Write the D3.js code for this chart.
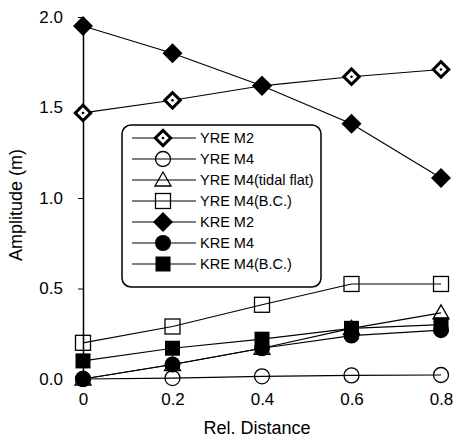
<!DOCTYPE html>
<html>
<head>
<meta charset="utf-8">
<title>Amplitude vs Rel. Distance</title>
<script src="https://d3js.org/d3.v7.min.js"></script>
<style>
body { margin: 0; background: #fff; }
svg { font-family: Arial, "Liberation Sans", sans-serif; }
</style>
</head>
<body>
<script>
// data
var distances = [0, 0.2, 0.4, 0.6, 0.8];
var yreM2 = [1.47, 1.54, 1.62, 1.67, 1.71];
var yreM4 = [0.0, 0.005, 0.015, 0.02, 0.022];
var yreM4Tidal = [0.0, 0.08, 0.17, 0.28, 0.365];
var yreM4BC = [0.20, 0.29, 0.41, 0.525, 0.525];
var kreM2 = [1.95, 1.80, 1.62, 1.41, 1.11];
var kreM4 = [0.0, 0.08, 0.17, 0.24, 0.27];
var kreM4BC = [0.10, 0.17, 0.22, 0.28, 0.30];
var yTicks = [0, 0.5, 1.0, 1.5, 2.0];

var series = [
  {name: "YRE M2", values: yreM2, shape: "odiamond"},
  {name: "YRE M4", values: yreM4, shape: "ocircle"},
  {name: "YRE M4(tidal flat)", values: yreM4Tidal, shape: "otriangle"},
  {name: "YRE M4(B.C.)", values: yreM4BC, shape: "osquare"},
  {name: "KRE M2", values: kreM2, shape: "fdiamond"},
  {name: "KRE M4", values: kreM4, shape: "fcircle"},
  {name: "KRE M4(B.C.)", values: kreM4BC, shape: "fsquare"}
];

var width = 456, height = 439;

var x = d3.scaleLinear().domain([0, 0.8]).range([83, 441]);
var y = d3.scaleLinear().domain([0, 2]).range([379, 17]);

var svg = d3.select("body").append("svg")
    .attr("width", width)
    .attr("height", height);

// draw one marker in group g
function marker(g, shape) {
  if (shape == "odiamond") {
    g.append("path").attr("d", d3.symbol(d3.symbolSquare, 120)())
      .attr("transform", "rotate(45)")
      .attr("fill", "#fff").attr("stroke", "#000").attr("stroke-width", 3);
    g.append("circle").attr("r", 1.3).attr("fill", "#000");
  } else if (shape == "fdiamond") {
    g.append("path").attr("d", d3.symbol(d3.symbolSquare, 200)())
      .attr("transform", "rotate(45)")
      .attr("fill", "#000");
  } else if (shape == "ocircle") {
    g.append("circle").attr("r", 7.5)
      .attr("fill", "none").attr("stroke", "#000").attr("stroke-width", 1.3);
  } else if (shape == "fcircle") {
    g.append("circle").attr("r", 8).attr("fill", "#000");
  } else if (shape == "osquare") {
    g.append("rect").attr("x", -7.5).attr("y", -7.5).attr("width", 15).attr("height", 15)
      .attr("fill", "none").attr("stroke", "#000").attr("stroke-width", 1.3);
  } else if (shape == "fsquare") {
    g.append("rect").attr("x", -7.5).attr("y", -7.5).attr("width", 15).attr("height", 15)
      .attr("fill", "#000");
  } else if (shape == "otriangle") {
    g.append("path").attr("d", "M0,-8L8,6L-8,6Z")
      .attr("fill", "none").attr("stroke", "#000").attr("stroke-width", 1.3);
  }
}

// axes
var yAxis = svg.append("g")
    .attr("transform", "translate(83,0)")
    .call(d3.axisLeft(y).tickValues(yTicks).tickFormat(d3.format(".1f"))
      .tickSize(5).tickSizeOuter(0).tickPadding(15));
yAxis.select(".domain").attr("stroke-width", 1.5);
yAxis.selectAll("text").attr("font-size", 17).attr("font-family", "Arial, 'Liberation Sans', sans-serif");

var xAxis = svg.append("g")
    .attr("transform", "translate(0,379)")
    .call(d3.axisBottom(x).tickValues(distances).tickFormat(function(d) { return d == 0 ? "0" : d3.format(".1f")(d); })
      .tickSize(0).tickPadding(14));
xAxis.select(".domain").remove();
xAxis.selectAll("text").attr("font-size", 17).attr("font-family", "Arial, 'Liberation Sans', sans-serif");

// lines
var line = d3.line()
    .x(function(d, i) { return x(distances[i]); })
    .y(function(d) { return y(d); });

svg.selectAll(".series-line")
    .data(series)
  .enter().append("path")
    .attr("class", "series-line")
    .attr("d", function(d) { return line(d.values); })
    .attr("fill", "none")
    .attr("stroke", "#000")
    .attr("stroke-width", 1.2);

// markers
series.forEach(function(s) {
  s.values.forEach(function(v, i) {
    var g = svg.append("g").attr("transform", "translate(" + x(distances[i]) + "," + y(v) + ")");
    marker(g, s.shape);
  });
});

// legend
var legend = svg.append("g");
legend.append("rect")
    .attr("x", 122).attr("y", 125)
    .attr("width", 199).attr("height", 162)
    .attr("rx", 9).attr("ry", 9)
    .attr("fill", "#fff").attr("stroke", "#000").attr("stroke-width", 1.5);

series.forEach(function(s, i) {
  var ly = 138 + i * 21;
  legend.append("line")
    .attr("x1", 132).attr("x2", 196).attr("y1", ly).attr("y2", ly)
    .attr("stroke", "#000").attr("stroke-width", 1.2);
  var g = legend.append("g").attr("transform", "translate(163," + ly + ")");
  marker(g, s.shape);
  legend.append("text")
    .attr("x", 200).attr("y", ly + 5)
    .attr("font-size", 14.5)
    .text(s.name);
});

// axis titles
svg.append("text")
    .attr("transform", "translate(22,205) rotate(-90)")
    .attr("text-anchor", "middle")
    .attr("font-size", 18)
    .text("Amplitude (m)");

svg.append("text")
    .attr("x", 257).attr("y", 434)
    .attr("text-anchor", "middle")
    .attr("font-size", 18)
    .text("Rel. Distance");
</script>
</body>
</html>
